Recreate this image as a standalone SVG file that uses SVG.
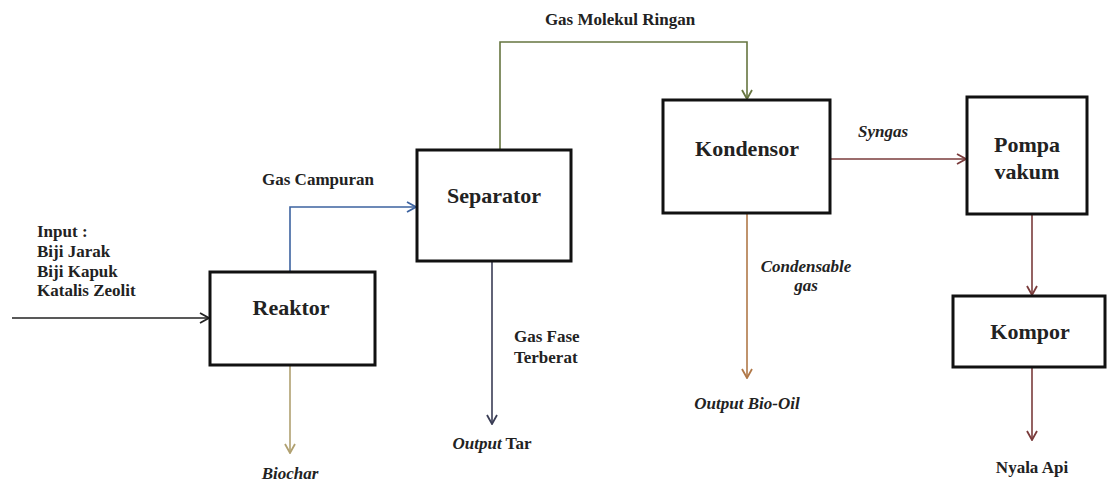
<svg xmlns="http://www.w3.org/2000/svg" width="1107" height="482" viewBox="0 0 1107 482">
<style>
.box{fill:#fff;stroke:#111;stroke-width:3}
.ln{fill:none;stroke-width:1.6}
</style>
<defs>
<marker id="aK" viewBox="0 0 12 12" refX="11" refY="6" markerWidth="12" markerHeight="12" markerUnits="userSpaceOnUse" orient="auto"><path d="M2,1 L11,6 L2,11" fill="none" stroke="#222" stroke-width="1.8"/></marker>
<marker id="aB" viewBox="0 0 12 12" refX="11" refY="6" markerWidth="12" markerHeight="12" markerUnits="userSpaceOnUse" orient="auto"><path d="M2,1 L11,6 L2,11" fill="none" stroke="#3d63a0" stroke-width="1.8"/></marker>
<marker id="aG" viewBox="0 0 12 12" refX="11" refY="6" markerWidth="12" markerHeight="12" markerUnits="userSpaceOnUse" orient="auto"><path d="M2,1 L11,6 L2,11" fill="none" stroke="#667540" stroke-width="1.8"/></marker>
<marker id="aS" viewBox="0 0 12 12" refX="11" refY="6" markerWidth="12" markerHeight="12" markerUnits="userSpaceOnUse" orient="auto"><path d="M2,1 L11,6 L2,11" fill="none" stroke="#3a3d55" stroke-width="1.8"/></marker>
<marker id="aO" viewBox="0 0 12 12" refX="11" refY="6" markerWidth="12" markerHeight="12" markerUnits="userSpaceOnUse" orient="auto"><path d="M2,1 L11,6 L2,11" fill="none" stroke="#b07848" stroke-width="1.8"/></marker>
<marker id="aM" viewBox="0 0 12 12" refX="11" refY="6" markerWidth="12" markerHeight="12" markerUnits="userSpaceOnUse" orient="auto"><path d="M2,1 L11,6 L2,11" fill="none" stroke="#7a3b3b" stroke-width="1.8"/></marker>
<marker id="aT" viewBox="0 0 12 12" refX="11" refY="6" markerWidth="12" markerHeight="12" markerUnits="userSpaceOnUse" orient="auto"><path d="M2,1 L11,6 L2,11" fill="none" stroke="#b0a070" stroke-width="1.8"/></marker>
</defs>
<rect width="1107" height="482" fill="#fff"/>
<g id="connectors">
<path class="ln" d="M12,318 H209" stroke="#222" marker-end="url(#aK)"/>
<path class="ln" d="M290,272 V207 H416" stroke="#3d63a0" marker-end="url(#aB)"/>
<path class="ln" d="M500,150 V42 H747 V99" stroke="#667540" marker-end="url(#aG)"/>
<path class="ln" d="M492,261 V424" stroke="#3a3d55" marker-end="url(#aS)"/>
<path class="ln" d="M747,213 V378" stroke="#b07848" marker-end="url(#aO)"/>
<path class="ln" d="M830,159 H966" stroke="#7a3b3b" marker-end="url(#aM)"/>
<path class="ln" d="M1032,214 V295" stroke="#7a3b3b" marker-end="url(#aM)"/>
<path class="ln" d="M1032,367 V440" stroke="#7a3b3b" marker-end="url(#aM)"/>
<path class="ln" d="M290,365 V453" stroke="#b0a070" marker-end="url(#aT)"/>
</g>
<g font-family="Liberation Serif, Times New Roman, serif" font-weight="bold" fill="#222">
<g id="reaktor"><rect class="box" x="210" y="272" width="165" height="93"/><text font-size="22" text-anchor="middle" x="291" y="315">Reaktor</text></g>
<g id="separator"><rect class="box" x="417" y="150" width="154" height="111"/><text font-size="22" text-anchor="middle" x="494" y="203">Separator</text></g>
<g id="kondensor"><rect class="box" x="663" y="100" width="167" height="113"/><text font-size="22" text-anchor="middle" x="747" y="156">Kondensor</text></g>
<g id="pompa"><rect class="box" x="967" y="97" width="120" height="117"/><text font-size="22" text-anchor="middle" x="1027" y="152">Pompa</text><text font-size="22" text-anchor="middle" x="1027" y="179">vakum</text></g>
<g id="kompor"><rect class="box" x="953" y="296" width="152" height="71"/><text font-size="22" text-anchor="middle" x="1030" y="339">Kompor</text></g>
<g id="labels" font-size="17">
<text x="37" y="237">Input :</text>
<text x="37" y="257">Biji Jarak</text>
<text x="37" y="277">Biji Kapuk</text>
<text x="37" y="296">Katalis Zeolit</text>
<text text-anchor="middle" x="318" y="185">Gas Campuran</text>
<text text-anchor="middle" x="620" y="25">Gas Molekul Ringan</text>
<text x="514" y="342">Gas Fase</text>
<text x="514" y="363">Terberat</text>
<text text-anchor="middle" x="492" y="449"><tspan font-style="italic">Output</tspan> Tar</text>
<text text-anchor="middle" font-style="italic" x="747" y="409">Output Bio-Oil</text>
<text text-anchor="middle" font-style="italic" x="806" y="272">Condensable</text>
<text text-anchor="middle" font-style="italic" x="806" y="291">gas</text>
<text text-anchor="middle" font-style="italic" x="883" y="137">Syngas</text>
<text text-anchor="middle" font-style="italic" x="290" y="479">Biochar</text>
<text text-anchor="middle" x="1032" y="473">Nyala Api</text>
</g>
</g>
</svg>
